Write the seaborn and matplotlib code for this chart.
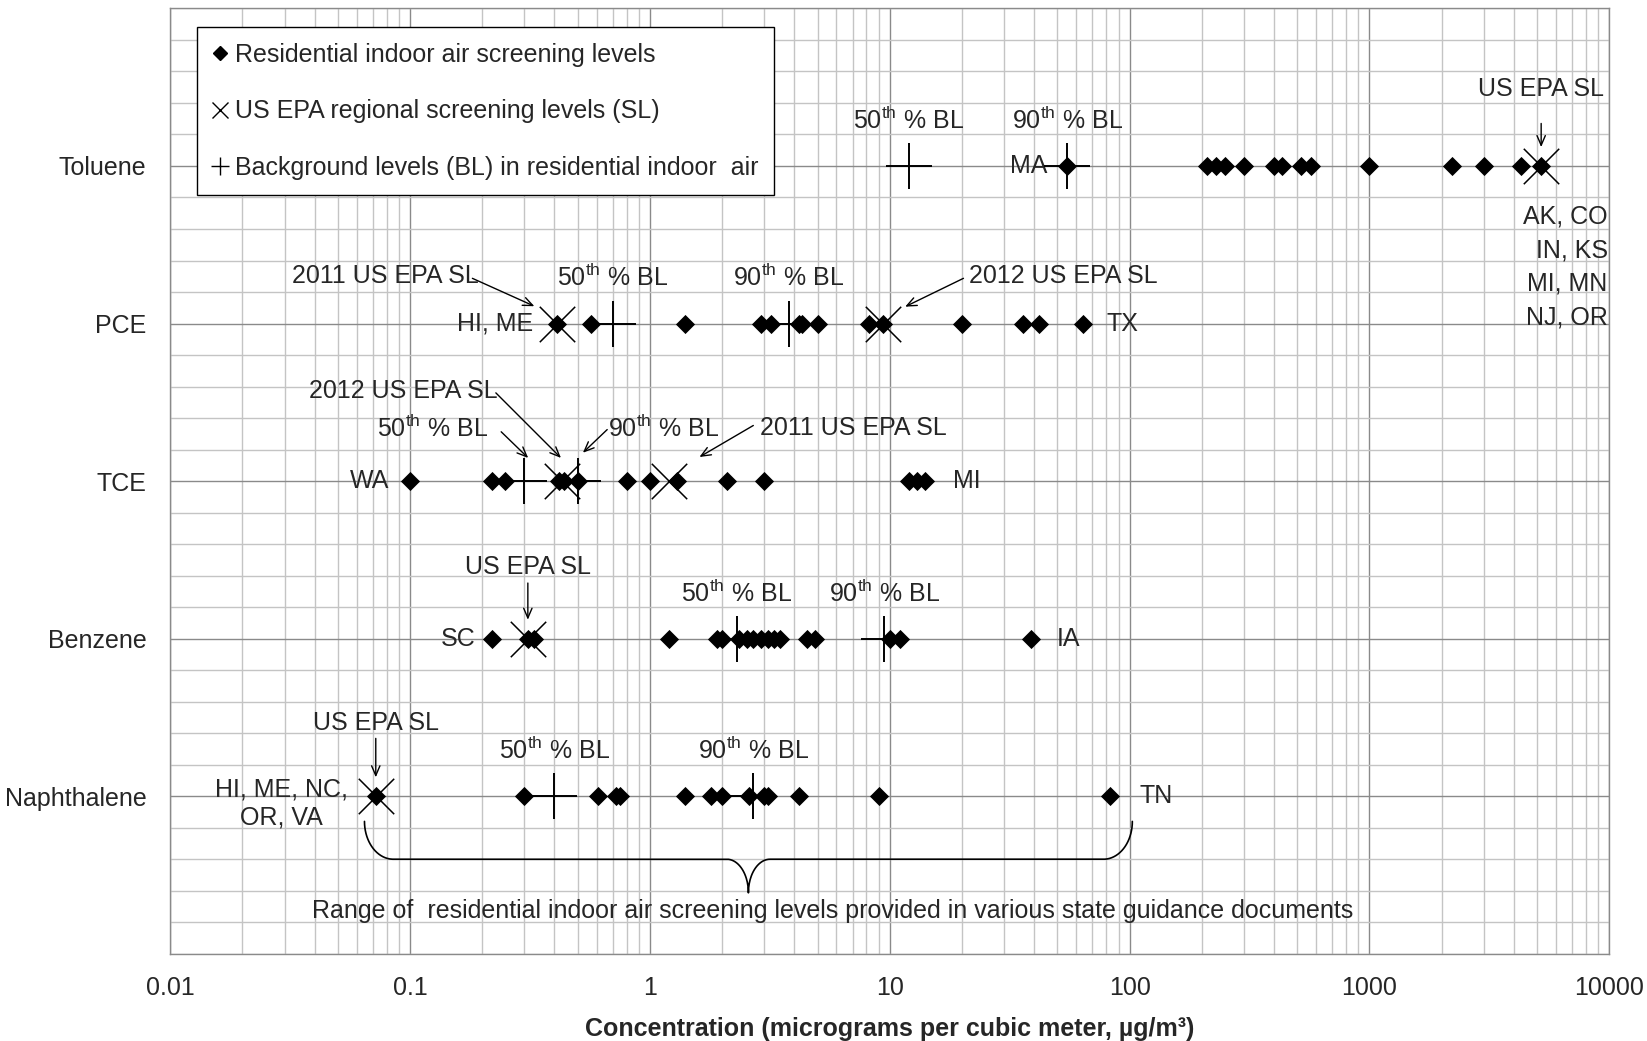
import numpy as np
import pandas as pd
import seaborn as sns
import matplotlib.pyplot as plt
from matplotlib.lines import Line2D
from matplotlib.ticker import LogLocator, MultipleLocator, NullFormatter

# rows of the chart (bottom to top)
chemicals = ["Naphthalene", "Benzene", "TCE", "PCE", "Toluene"]
rows = [1, 2, 3, 4, 5]

# residential indoor air screening levels from state guidance (ug/m3)
naphthalene_sl = [0.072, 0.30, 0.61, 0.72, 0.75, 1.4, 1.8, 2.0, 2.6, 3.0, 3.1, 4.2, 9.0, 83]
benzene_sl = [0.22, 0.31, 0.33, 1.2, 1.9, 2.0, 2.35, 2.55, 2.7, 2.9, 3.1, 3.3, 3.5, 4.5, 4.9, 10, 11, 39]
tce_sl = [0.10, 0.22, 0.25, 0.42, 0.44, 0.50, 0.80, 1.0, 1.3, 2.1, 3.0, 12, 13, 14]
pce_sl = [0.41, 0.57, 1.4, 2.9, 3.2, 4.2, 4.3, 5.0, 8.2, 9.4, 20, 36, 42, 64]
toluene_sl = [55, 210, 230, 250, 300, 400, 430, 520, 570, 1000, 2200, 3000, 4300, 5200]

# US EPA regional screening levels
naphthalene_epa = [0.072]
benzene_epa = [0.31]
tce_epa = [0.43, 1.2]
pce_epa = [0.41, 9.4]
toluene_epa = [5200]

# background levels, 50th and 90th percentile
bl_50 = [0.40, 2.3, 0.30, 0.70, 12]
bl_90 = [2.7, 9.5, 0.50, 3.8, 55]

tick_values = [0.01, 0.1, 1, 10, 100, 1000, 10000]
tick_labels = ["0.01", "0.1", "1", "10", "100", "1000", "10000"]

state_levels = [naphthalene_sl, benzene_sl, tce_sl, pce_sl, toluene_sl]
epa_levels = [naphthalene_epa, benzene_epa, tce_epa, pce_epa, toluene_epa]

df_state = pd.DataFrame([(c, r, v) for c, r, vals in zip(chemicals, rows, state_levels) for v in vals],
                        columns=["chemical", "row", "conc"])
df_epa = pd.DataFrame([(c, r, v) for c, r, vals in zip(chemicals, rows, epa_levels) for v in vals],
                      columns=["chemical", "row", "conc"])
df_bl = pd.DataFrame({"chemical": chemicals * 2, "row": rows * 2, "conc": bl_50 + bl_90})

sns.set_style("white")
plt.rcParams['font.family'] = ['Liberation Sans', 'DejaVu Sans']
plt.rcParams['mathtext.fontset'] = 'custom'
plt.rcParams['mathtext.rm'] = 'Liberation Sans'
plt.rcParams['mathtext.default'] = 'rm'
FS = 18

fig, ax = plt.subplots(figsize=(16.47, 10.41), dpi=100)
fig.subplots_adjust(left=0.1033, right=0.9771, bottom=0.0838, top=0.9919)

sns.scatterplot(data=df_state, x="conc", y="row", marker="D", s=95, color="black",
                linewidth=0, ax=ax, zorder=4, legend=False)
sns.scatterplot(data=df_epa, x="conc", y="row", marker="x", s=650, color="black",
                linewidth=1.1, ax=ax, zorder=5, legend=False)
sns.scatterplot(data=df_bl, x="conc", y="row", marker="+", s=1050, color="black",
                linewidth=1.4, ax=ax, zorder=5, legend=False)

ax.set_xscale("log")
ax.set_xlim(0.01, 10000)
ax.set_ylim(0, 6)

# grid like the spreadsheet: decades + 2..9, rows + fifths
ax.set_xticks(tick_values)
ax.set_xticklabels(tick_labels, fontsize=FS)
ax.xaxis.set_minor_locator(LogLocator(base=10, subs=np.arange(2, 10), numticks=20))
ax.xaxis.set_minor_formatter(NullFormatter())
ax.set_yticks(rows)
ax.set_yticklabels(chemicals, fontsize=FS)
ax.yaxis.set_minor_locator(MultipleLocator(0.2))
ax.grid(which="minor", color="#c4c4c4", lw=1.0, zorder=0)
ax.grid(which="major", color="#8a8a8a", lw=1.0, zorder=1)
ax.set_axisbelow(True)
ax.tick_params(axis="x", which="major", direction="inout", length=12, color="#8a8a8a", pad=10)
ax.tick_params(axis="x", which="minor", length=0)
ax.tick_params(axis="y", which="major", direction="out", length=5, color="#8a8a8a", pad=12)
ax.tick_params(axis="y", which="minor", length=0)
for sp in ax.spines.values():
    sp.set_color("#8a8a8a")
    sp.set_linewidth(1.0)

ax.set_xlabel("Concentration (micrograms per cubic meter, µg/m³)", fontsize=FS,
              fontweight="bold", labelpad=12)
ax.set_ylabel("")

# legend
handles = [Line2D([], [], ls="none", marker="D", ms=7, color="black"),
           Line2D([], [], ls="none", marker="x", ms=11, mew=1.0, color="black"),
           Line2D([], [], ls="none", marker="+", ms=13, mew=1.0, color="black")]
labels = ["Residential indoor air screening levels",
          "US EPA regional screening levels (SL)",
          "Background levels (BL) in residential indoor  air"]
leg = ax.legend(handles, labels, loc="upper left", bbox_to_anchor=(0.019, 0.98), fontsize=FS,
                frameon=True, fancybox=False, edgecolor="black", framealpha=1,
                handlelength=0.6, handletextpad=0.3, labelspacing=1.3, borderpad=0.62,
                borderaxespad=0)
leg.get_frame().set_linewidth(1.0)

arrow = dict(arrowstyle="->,head_length=0.7,head_width=0.3", lw=1.0, color="black",
             shrinkA=0, shrinkB=0)
bl_txt = "{}$^{{\\mathrm{{th}}}}$ % BL"


def label(txt, x, y, **kw):
    ax.text(x, y, txt, fontsize=FS, **kw)


def arr(tail, tip):
    ax.annotate("", xy=tip, xytext=tail, arrowprops=arrow)


def side(txt, x, y, dx, ha, dy=0, **kw):
    ax.annotate(txt, xy=(x, y), xytext=(dx, dy), textcoords="offset points",
                ha=ha, va="center", fontsize=FS, **kw)


# percentile labels above the plus marks (not TCE)
for i in [0, 1, 3, 4]:
    label(bl_txt.format(50), bl_50[i], rows[i] + 0.29, ha="center", va="center")
    label(bl_txt.format(90), bl_90[i], rows[i] + 0.29, ha="center", va="center")

# Toluene
label("US EPA SL", toluene_epa[0], 5.49, ha="center", va="center")
arr((toluene_epa[0], 5.27), (toluene_epa[0], 5.12))
side("MA", toluene_sl[0], 5, -14, "right")
label("AK, CO\nIN, KS\nMI, MN\nNJ, OR", 9850, 4.36, ha="right", va="center", linespacing=1.5)

# PCE
label("2011 US EPA SL", 0.079, 4.30, ha="center", va="center")
arr((0.182, 4.287), (0.33, 4.11))
label("2012 US EPA SL", 52.8, 4.30, ha="center", va="center")
arr((20.3, 4.287), (11.6, 4.107))
side("HI, ME", pce_epa[0], 4, -17, "right")
side("TX", pce_sl[-1], 4, 17, "left")

# TCE
label("2012 US EPA SL", 0.0938, 3.573, ha="center", va="center")
arr((0.228, 3.56), (0.426, 3.147))
label(bl_txt.format(50), 0.1245, 3.333, ha="center", va="center")
arr((0.240, 3.313), (0.311, 3.147))
label(bl_txt.format(90), 1.14, 3.333, ha="center", va="center")
arr((0.664, 3.327), (0.526, 3.18))
label("2011 US EPA SL", 7.03, 3.34, ha="center", va="center")
arr((2.70, 3.353), (1.61, 3.153))
side("WA", tce_sl[0], 3, -15, "right")
side("MI", tce_sl[-1], 3, 20, "left")

# Benzene
label("US EPA SL", benzene_epa[0], 2.453, ha="center", va="center")
arr((benzene_epa[0], 2.353), (benzene_epa[0], 2.12))
side("SC", benzene_sl[0], 2, -12, "right")
side("IA", benzene_sl[-1], 2, 18, "left")

# Naphthalene
label("US EPA SL", naphthalene_epa[0], 1.467, ha="center", va="center")
arr((naphthalene_epa[0], 1.367), (naphthalene_epa[0], 1.12))
side("HI, ME, NC,\nOR, VA", naphthalene_epa[0], 1, -20, "right", dy=-5, multialignment="center")
side("TN", naphthalene_sl[-1], 1, 21, "left")

# curly brace spanning the range of state screening levels
brace_lo, brace_hi = np.log10(0.0646), np.log10(102.7)
mid = (brace_lo + brace_hi) / 2
y_end, y_bar, y_tip = 0.84, 0.60, 0.387
a, b = 0.12, 0.09
t = np.linspace(0, np.pi / 2, 40)
h_end, h_tip = y_end - y_bar, y_bar - y_tip
left_corner = np.c_[brace_lo + a - a * np.cos(t), y_end - h_end * np.sin(t)]
left_mid = np.c_[mid - b + b * np.sin(t), y_tip + h_tip * np.cos(t)]
right_mid = np.c_[mid + b - b * np.cos(t), y_tip + h_tip * np.sin(t)]
right_corner = np.c_[brace_hi - a + a * np.sin(t), y_end - h_end * np.cos(t)]
brace = np.r_[left_corner, left_mid, right_mid, right_corner]
ax.plot(10 ** brace[:, 0], brace[:, 1], color="black", lw=1.2, zorder=3)
label("Range of  residential indoor air screening levels provided in various state guidance documents",
      5.8, 0.273, ha="center", va="center")

plt.savefig("out.png", dpi=100)
